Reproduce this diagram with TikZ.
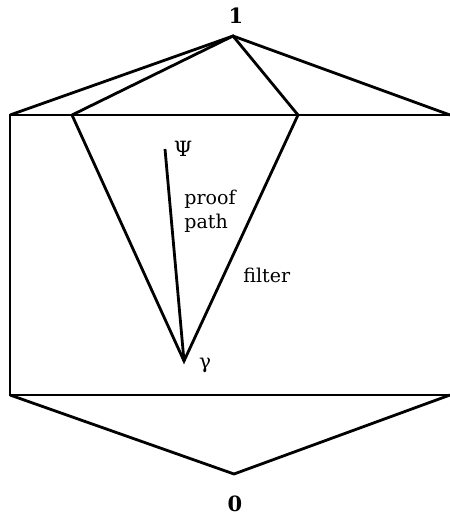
\documentclass[tikz,border=0pt]{standalone}
\usepackage{fontspec}
\setmainfont{DejaVu Serif}
\begin{document}
\begin{tikzpicture}[x=1pt,y=-1pt,line width=2.8pt,line join=miter,
  lbl/.style={inner sep=0pt,font=\fontsize{19}{24}\selectfont},
  num/.style={inner sep=0pt,font=\fontsize{21}{24}\selectfont\bfseries,anchor=base}]
\useasboundingbox (0,0) rectangle (450,515);
\coordinate (top) at (233,36);
\coordinate (bot) at (234,474);
\coordinate (TL) at (10,115);
\coordinate (TR) at (450,115);
\coordinate (BL) at (10,395);
\coordinate (BR) at (450,395);
\coordinate (fl) at (72,115);
\coordinate (fr) at (298,115);
\coordinate (gam) at (184,361);
\coordinate (psi) at (165,149);
\draw (TL) -- (top) -- (TR);
\draw (fl) -- (top) -- (fr);
\draw (TR) -- (TL) -- (BL) -- (BR);
\draw (BL) -- (bot) -- (BR);
\draw (fl) -- (gam) -- (fr);
\draw (psi) -- (gam);
\node[num] (one) at (236,23) {1};
\node[num] (zero) at (235,511) {0};
\node[lbl,anchor=base,font=\fontsize{21}{24}\selectfont] (psil) at (183,156) {Ψ};
\node[lbl,anchor=base west] (proof) at (183,204) {proof};
\node[lbl,anchor=base west] (path) at (183,228) {path};
\node[lbl,anchor=base west] (fil) at (242,282) {filter};
\node[lbl,anchor=base,font=\fontsize{20}{24}\selectfont] (gl) at (205,368) {γ};
\end{tikzpicture}
\end{document}
